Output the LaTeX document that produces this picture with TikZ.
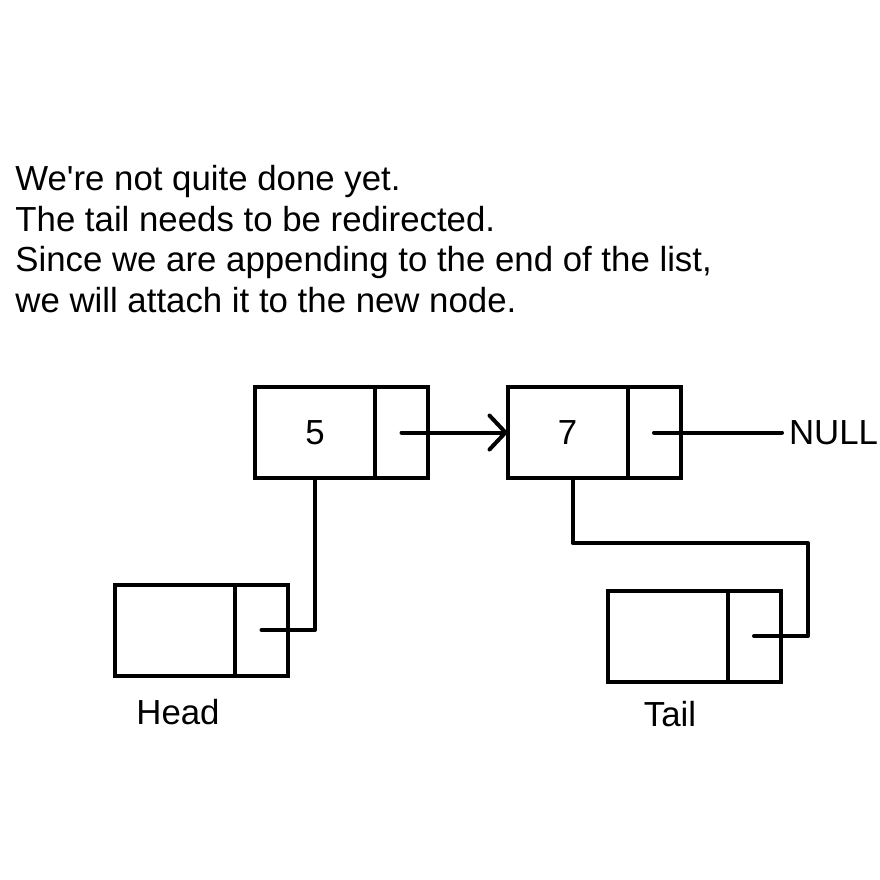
\documentclass[tikz,border=0pt]{standalone}
\usepackage{fontspec}
\setmainfont{Liberation Sans}
\usetikzlibrary{arrows.meta}

\tikzset{
    cell/.style={draw, line width=2pt, minimum height=45.5pt, inner sep=0pt, outer sep=0pt},
    datacell/.style={cell, minimum width=60pt},
    ptrcell/.style={cell, minimum width=26.5pt, anchor=west},
    link/.style={line width=2pt, line cap=round, line join=round}
}

\begin{document}
\begin{tikzpicture}[x=0.5pt, y=-0.5pt, font=\fontsize{17.4}{20.25}\selectfont]
            \useasboundingbox (0,0) rectangle (880,880);

            \node[anchor=north west, inner sep=0pt, align=left] (msg) at (15,165)
                {We\textquotesingle re not quite done yet.\\
                 The tail needs to be redirected.\\
                 Since we are appending to the end of the list,\\
                 we will attach it to the new node.};

            % list nodes
            \node[datacell] (d5) at (315,432.5) {5};
            \node[ptrcell] (p5) at (d5.east) {};
            \node[datacell] (d7) at (567.5,432.5) {7};
            \node[ptrcell] (p7) at (d7.east) {};
            \node[anchor=west] (null) at (782,432.5) {NULL};

            % head and tail pointers
            \node[datacell] (dh) at (175,630) {};
            \node[ptrcell] (ph) at (dh.east) {};
            \node[datacell] (dt) at (667.5,636) {};
            \node[ptrcell] (pt) at (dt.east) {};
            \node (head) at (178,712) {Head};
            \node (tail) at (670,714) {Tail};
            \coordinate (bend) at (808,543);

            \draw[link, -{Straight Barb[length=8pt, width=17pt, round]}] (p5.center) -- (d7.west);
            \draw[link] (p7.center) -- (null.west);
            \draw[link] (ph.center) -| (d5.south);
            \draw[link] (pt.center) -| (bend) -| ([xshift=2.5pt]d7.south);
        \end{tikzpicture}
\end{document}
